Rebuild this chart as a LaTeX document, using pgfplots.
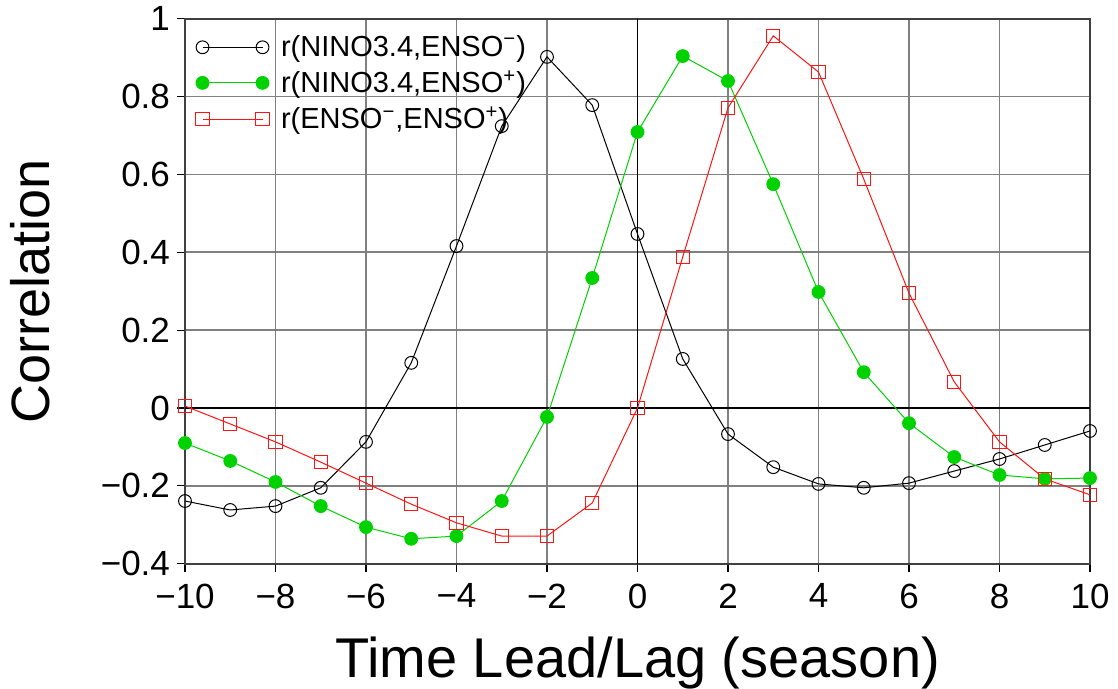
\documentclass[border=0pt]{standalone}
\usepackage{fontspec}
\setmainfont{Liberation Sans}
\usepackage{pgfplots}
\pgfplotsset{compat=1.18}
\definecolor{ggreen}{RGB}{0,210,0}
\definecolor{rred}{RGB}{255,20,20}
\begin{document}
\begin{tikzpicture}
\begin{axis}[
  name=ax,
  scale only axis, width=452.5pt, height=272.5pt,
  xmin=-10, xmax=10, ymin=-0.4, ymax=1,
  xtick={-10,-8,...,10},
  xticklabels={−10,−8,−6,−4,−2,0,2,4,6,8,10},
  ytick={-0.4,-0.2,0,0.2,0.4,0.6,0.8,1},
  yticklabels={−0.4,−0.2,0,0.2,0.4,0.6,0.8,1},
  tick pos=left, tick align=outside, major tick length=4pt,
  grid=major, major grid style={black!50, line width=0.9pt},
  axis line style={black!75, line width=1pt},
  tick style={black, line width=0.6pt},
  tick label style={font=\fontsize{17.5}{17.5}\selectfont},
  xticklabel style={yshift=-2.5pt},
  xlabel={Time Lead/Lag (season)}, ylabel={Correlation},
  xlabel style={font=\fontsize{28}{28}\selectfont, at={(rel axis cs:0.5,0)}, anchor=center, yshift=-49.5pt, inner sep=0pt},
  ylabel style={font=\fontsize{27}{27}\selectfont, at={(rel axis cs:0,0.5)}, anchor=center, yshift=77.5pt, inner sep=0pt},
  legend style={at={(0.005,0.985)}, anchor=north west, draw=none, fill=none,
    font=\fontsize{14.5}{14.5}\selectfont, row sep=1.5pt},
  legend cell align=left,
  legend image code/.code={\draw[mark repeat=1,#1] plot coordinates {(0pt,0pt) (30pt,0pt)}; \path (37pt,0pt);},
]
\draw[black, line width=0.7pt] (axis cs:0,-0.4) -- (axis cs:0,1);
\draw[black, line width=0.7pt] (axis cs:-10,0) -- (axis cs:10,0);
\addplot[black, line width=0.5pt, mark=o, mark size=3.2pt, mark options={fill=white}] coordinates {
(-10,-0.239) (-9,-0.262) (-8,-0.252) (-7,-0.205) (-6,-0.087) (-5,0.116) (-4,0.416)
(-3,0.724) (-2,0.902) (-1,0.778) (0,0.447) (1,0.126) (2,-0.067) (3,-0.152) (4,-0.195)
(5,-0.205) (6,-0.193) (7,-0.162) (8,-0.131) (9,-0.095) (10,-0.059)};
\addlegendentry{r(NINO3.4,ENSO\textsuperscript{−})}
\addplot[ggreen, line width=0.5pt, mark=*, mark size=3.2pt, mark options={fill=ggreen, draw=ggreen}] coordinates {
(-10,-0.09) (-9,-0.136) (-8,-0.19) (-7,-0.252) (-6,-0.306) (-5,-0.336) (-4,-0.329)
(-3,-0.239) (-2,-0.023) (-1,0.334) (0,0.709) (1,0.904) (2,0.84) (3,0.575) (4,0.298)
(5,0.092) (6,-0.039) (7,-0.126) (8,-0.172) (9,-0.182) (10,-0.18)};
\addlegendentry{r(NINO3.4,ENSO\textsuperscript{+})}
\addplot[rred, line width=0.5pt, mark=square, mark size=3.3pt, mark options={fill=white}] coordinates {
(-10,0.005) (-9,-0.041) (-8,-0.087) (-7,-0.139) (-6,-0.193) (-5,-0.247) (-4,-0.295)
(-3,-0.329) (-2,-0.329) (-1,-0.244) (0,0) (1,0.388) (2,0.771) (3,0.956) (4,0.863)
(5,0.588) (6,0.295) (7,0.067) (8,-0.087) (9,-0.182) (10,-0.223)};
\addlegendentry{r(ENSO\textsuperscript{−},ENSO\textsuperscript{+})}
\end{axis}
\path (ax.south west) ++(-92.5pt,-62pt);
\path (ax.north east) ++(14pt,9pt);
\end{tikzpicture}
\end{document}
